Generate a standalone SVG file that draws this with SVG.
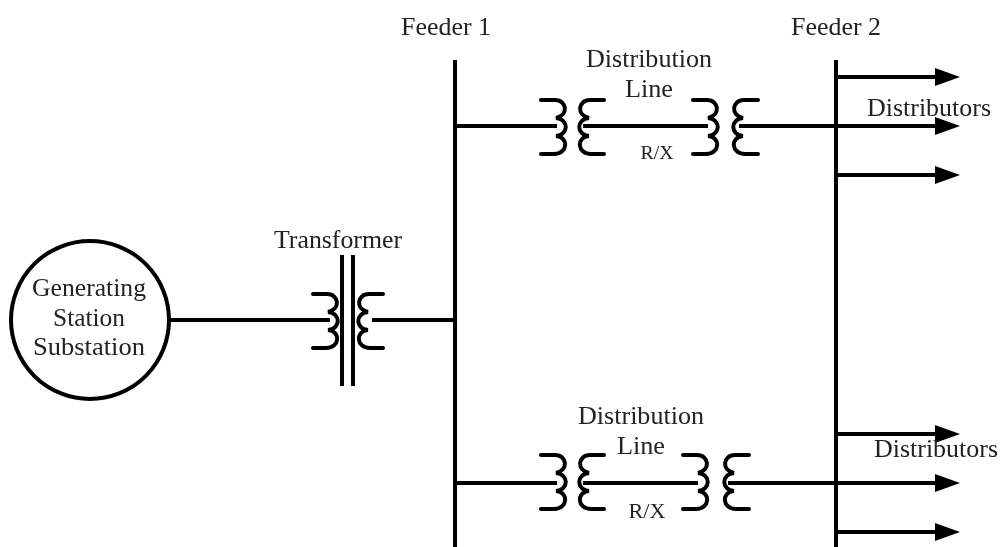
<svg xmlns="http://www.w3.org/2000/svg" width="1000" height="547" viewBox="0 0 1000 547">
<style>
.w{fill:none;stroke:#000;stroke-width:4}
.c{fill:none;stroke:#000;stroke-width:4;stroke-linecap:round}
.all{filter:url(#soft)}
text{font-family:"Liberation Serif","Times New Roman",serif;font-size:25.5px;fill:#222;text-anchor:middle}
</style>
<defs>
<filter id="soft" x="0" y="0" width="1000" height="547" filterUnits="userSpaceOnUse"><feGaussianBlur stdDeviation="0.55"/></filter>
<path id="coil" class="c" d="M0,0H14C26,0 28,15 15,18C28,19 28,35 15,36C28,37 27,54 13,54H0"/>
<marker id="ah" markerUnits="userSpaceOnUse" markerWidth="26" markerHeight="20" refX="5" refY="10" orient="auto"><path d="M0,1L25,10L0,19Z" fill="#000"/></marker>
</defs>
<rect width="1000" height="547" fill="#fff"/>
<g class="all">
<g id="connectors">
<path class="w" d="M170,320H330M372,320H455"/>
<path class="w" d="M455,60V547"/>
<path class="w" d="M836,60V547"/>
<path class="w" d="M455,126H557M583,126H708M739,126H836"/>
<path class="w" d="M455,483H557M583,483H698M728,483H836"/>
<path class="w" marker-end="url(#ah)" d="M836,77H940"/>
<path class="w" marker-end="url(#ah)" d="M836,126H940"/>
<path class="w" marker-end="url(#ah)" d="M836,175H940"/>
<path class="w" marker-end="url(#ah)" d="M836,434H940"/>
<path class="w" marker-end="url(#ah)" d="M836,483H940"/>
<path class="w" marker-end="url(#ah)" d="M836,532H940"/>
</g>
<g id="station">
<circle cx="90" cy="320" r="79" fill="none" stroke="#000" stroke-width="4"/>
<text x="89" y="296" textLength="114" lengthAdjust="spacingAndGlyphs">Generating</text>
<text x="89" y="326" textLength="72" lengthAdjust="spacingAndGlyphs">Station</text>
<text x="89" y="355" textLength="112" lengthAdjust="spacingAndGlyphs">Substation</text>
</g>
<g id="transformer">
<path class="w" d="M342,255V386M353,255V386"/>
<use href="#coil" x="313" y="294"/>
<use href="#coil" transform="translate(383,294) scale(-1,1)"/>
<text x="338" y="248" textLength="128" lengthAdjust="spacingAndGlyphs">Transformer</text>
</g>
<g id="feeder1"><text x="446" y="35" textLength="90" lengthAdjust="spacingAndGlyphs">Feeder 1</text></g>
<g id="feeder2"><text x="836" y="35" textLength="90" lengthAdjust="spacingAndGlyphs">Feeder 2</text></g>
<g id="line1">
<use href="#coil" x="541" y="100"/>
<use href="#coil" transform="translate(604,100) scale(-1,1)"/>
<use href="#coil" x="693" y="100"/>
<use href="#coil" transform="translate(758,100) scale(-1,1)"/>
<text x="649" y="67" textLength="126" lengthAdjust="spacingAndGlyphs">Distribution</text>
<text x="649" y="97" textLength="48" lengthAdjust="spacingAndGlyphs">Line</text>
<text x="657" y="159" style="font-size:18px" textLength="33" lengthAdjust="spacingAndGlyphs">R/X</text>
</g>
<g id="line2">
<use href="#coil" x="541" y="455"/>
<use href="#coil" transform="translate(604,455) scale(-1,1)"/>
<use href="#coil" x="683" y="455"/>
<use href="#coil" transform="translate(749,455) scale(-1,1)"/>
<text x="641" y="424" textLength="126" lengthAdjust="spacingAndGlyphs">Distribution</text>
<text x="641" y="454" textLength="48" lengthAdjust="spacingAndGlyphs">Line</text>
<text x="647" y="518" style="font-size:22px" textLength="37" lengthAdjust="spacingAndGlyphs">R/X</text>
</g>
<g id="dist1"><text x="929" y="116" textLength="124" lengthAdjust="spacingAndGlyphs">Distributors</text></g>
<g id="dist2"><text x="936" y="457" textLength="124" lengthAdjust="spacingAndGlyphs">Distributors</text></g>
</g>
</svg>
